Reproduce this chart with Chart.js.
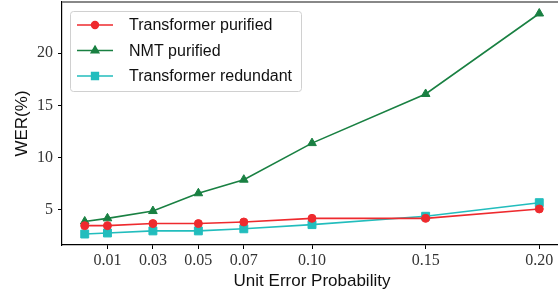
<!DOCTYPE html>
<html>
<head>
<meta charset="utf-8">
<script src="https://cdn.jsdelivr.net/npm/chart.js@4"></script>
<style>
  html, body { margin: 0; padding: 0; background: #fff; }
  #wrap { width: 558px; height: 292px; overflow: hidden; }
  #box { width: 562px; height: 292px; }
</style>
</head>
<body>
<div id="wrap"><div id="box"><canvas id="chart"></canvas></div></div>
<script>
// --- Data ---
const errorProb = [0, 0.01, 0.03, 0.05, 0.07, 0.10, 0.15, 0.20];
const xTicks = [0.01, 0.03, 0.05, 0.07, 0.10, 0.15, 0.20];
const yTicks = [5, 10, 15, 20];
const transformerPurified = [3.5, 3.5, 3.7, 3.7, 3.85, 4.2, 4.2, 5.1];
const nmtPurified = [3.9, 4.2, 4.9, 6.6, 7.9, 11.4, 16.1, 23.8];
const transformerRedundant = [2.7, 2.8, 3.0, 3.0, 3.2, 3.6, 4.4, 5.7];

const SERIF = '"Liberation Serif", "DejaVu Serif", serif';
const SANS = '"Liberation Sans", "DejaVu Sans", sans-serif';

function toPoints(values) {
    return values.map((v, i) => ({ x: errorProb[i], y: v }));
}

const series = [
    { label: 'Transformer purified', data: transformerPurified, color: '#ee2a2e', style: 'circle', r: 4 },
    { label: 'NMT purified', data: nmtPurified, color: '#198042', style: 'triangle', r: 5 },
    { label: 'Transformer redundant', data: transformerRedundant, color: '#22bdbd', style: 'rect', r: 5.6 }
];

// legend drawn inside the plot, matplotlib style
const innerLegend = {
    id: 'innerLegend',
    afterDraw(chart) {
        const ctx = chart.ctx;
        const area = chart.chartArea;
        const x0 = area.left + 8, y0 = area.top + 9;
        const w = 231, h = 80;
        ctx.save();
        ctx.beginPath();
        ctx.roundRect(x0 + 0.5, y0 + 0.5, w, h, 3);
        ctx.fillStyle = 'rgba(255,255,255,0.85)';
        ctx.fill();
        ctx.strokeStyle = '#d0d0d0';
        ctx.lineWidth = 1;
        ctx.stroke();

        ctx.font = '16px ' + SANS;
        ctx.textBaseline = 'middle';
        series.forEach((s, i) => {
            const y = y0 + 14 + i * 25.5;
            ctx.strokeStyle = s.color;
            ctx.lineWidth = 1.6;
            ctx.beginPath();
            ctx.moveTo(x0 + 7, y);
            ctx.lineTo(x0 + 43, y);
            ctx.stroke();
            Chart.helpers.drawPoint(ctx, {
                pointStyle: s.style, radius: s.r * 0.85, borderWidth: 1, rotation: 0
            }, x0 + 25, y);
            ctx.fillStyle = s.color;
            ctx.fill();
            ctx.fillStyle = '#111';
            ctx.fillText(s.label, x0 + 59, y + 1);
        });
        ctx.restore();
    }
};

// faint top spine clipped at the edge of the picture
const topSpine = {
    id: 'topSpine',
    beforeDatasetsDraw(chart) {
        const ctx = chart.ctx;
        const area = chart.chartArea;
        ctx.save();
        ctx.strokeStyle = '#888';
        ctx.lineWidth = 2;
        ctx.beginPath();
        ctx.moveTo(area.left, area.top);
        ctx.lineTo(area.right, area.top);
        ctx.stroke();
        ctx.restore();
    }
};

new Chart(document.getElementById('chart'), {
    type: 'line',
    data: {
        datasets: series.map(s => ({
            label: s.label,
            data: toPoints(s.data),
            borderColor: s.color,
            backgroundColor: s.color,
            pointBackgroundColor: s.color,
            pointBorderColor: s.color,
            pointBorderWidth: 1,
            pointStyle: s.style,
            pointRadius: s.r,
            borderWidth: 1.6,
            tension: 0,
            clip: false
        }))
    },
    options: {
        responsive: true,
        maintainAspectRatio: false,
        animation: false,
        devicePixelRatio: 1,
        layout: { autoPadding: false, padding: { top: 2, left: 0, right: 0, bottom: 0 } },
        plugins: {
            legend: { display: false },
            tooltip: { enabled: false }
        },
        scales: {
            x: {
                type: 'linear',
                min: -0.01,
                max: 0.21,
                afterBuildTicks: axis => { axis.ticks = xTicks.map(v => ({ value: v })); },
                afterFit: axis => {
                    axis.height = 47;
                    axis.paddingLeft = 0;
                    axis.paddingRight = 0;
                },
                grid: { drawOnChartArea: false, tickLength: 4, tickColor: '#000' },
                border: { display: true, color: '#000', width: 1.2 },
                ticks: {
                    color: '#333',
                    padding: 2,
                    maxRotation: 0,
                    font: { family: SERIF, size: 16 },
                    callback: v => v.toFixed(2)
                },
                title: {
                    display: true,
                    text: 'Unit Error Probability',
                    color: '#111',
                    font: { family: SANS, size: 17 },
                    padding: { top: 4, bottom: 0 }
                }
            },
            y: {
                min: 1.65,
                max: 24.9,
                afterBuildTicks: axis => { axis.ticks = yTicks.map(v => ({ value: v })); },
                afterFit: axis => {
                    axis.width = 62;
                    axis.paddingTop = 0;
                    axis.paddingBottom = 0;
                },
                grid: { drawOnChartArea: false, tickLength: 4, tickColor: '#000' },
                border: { display: true, color: '#000', width: 1.2 },
                ticks: {
                    color: '#333',
                    padding: 5,
                    font: { family: SERIF, size: 16 }
                },
                title: {
                    display: true,
                    text: 'WER(%)',
                    color: '#111',
                    font: { family: SANS, size: 17 },
                    padding: { top: 12, bottom: 0 }
                }
            }
        }
    },
    plugins: [topSpine, innerLegend]
});
</script>
</body>
</html>
